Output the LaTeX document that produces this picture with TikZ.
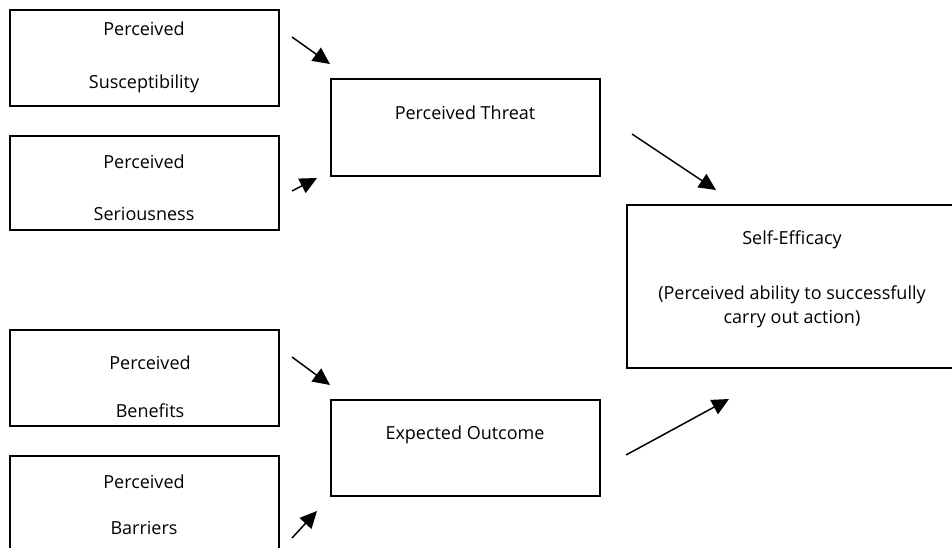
\documentclass[tikz,border=0pt]{standalone}
\usepackage{fontspec}
\setmainfont{Open Sans}
\usetikzlibrary{arrows.meta}
\begin{document}
\begin{tikzpicture}[x=1pt,y=-1pt,
  box/.style={draw,line width=1.6pt,rectangle,inner sep=0pt},
  lbl/.style={anchor=base,inner sep=0pt,font=\fontsize{18}{21}\selectfont},
  arr/.style={line width=1.5pt,-{Triangle[length=17pt,width=16pt]}}]
\useasboundingbox (0,0) rectangle (952,547);
\begin{scope}
\clip (0,0) rectangle (952,547);
% boxes
\node[box,minimum width=269pt,minimum height=96pt] (sus) at (144.5,58) {};
\node[box,minimum width=269pt,minimum height=94pt] (ser) at (144.5,183) {};
\node[box,minimum width=269pt,minimum height=97pt] (thr) at (465.5,127.5) {};
\node[box,minimum width=380pt,minimum height=163pt] (se) at (817,286.5) {};
\node[box,minimum width=269pt,minimum height=96pt] (ben) at (144.5,378) {};
\node[box,minimum width=269pt,minimum height=96pt] (eo) at (465.5,448) {};
\node[box,minimum width=269pt,minimum height=110pt] (bar) at (144.5,511) {};
\end{scope}
% texts
\node[lbl] (t1a) at (144,35) {Perceived};
\node[lbl] (t1b) at (144,88) {Susceptibility};
\node[lbl] (t2a) at (144,168) {Perceived};
\node[lbl] (t2b) at (144,220) {Seriousness};
\node[lbl] (t3) at (465,119) {Perceived Threat};
\node[lbl] (t4a) at (792,244) {Self-Efficacy};
\node[lbl] (t4b) at (792,299) {(Perceived ability to successfully};
\node[lbl] (t4c) at (792,323) {carry out action)};
\node[lbl] (t5a) at (150,369) {Perceived};
\node[lbl] (t5b) at (150,417) {Benefits};
\node[lbl] (t7) at (465,439) {Expected Outcome};
\node[lbl] (t8a) at (144,488) {Perceived};
\node[lbl] (t8b) at (144,534) {Barriers};
% arrow end points
\coordinate (a1s) at (292,37);  \coordinate (a1e) at (330,64);
\coordinate (a2s) at (292,191); \coordinate (a2e) at (317,178);
\coordinate (a3s) at (632,134); \coordinate (a3e) at (716,190);
\coordinate (a4s) at (292,357); \coordinate (a4e) at (330,385);
\coordinate (a5s) at (292,538); \coordinate (a5e) at (317,511);
\coordinate (a6s) at (626,455); \coordinate (a6e) at (729,399);
\draw[arr] (a1s) -- (a1e);
\draw[arr] (a2s) -- (a2e);
\draw[arr] (a3s) -- (a3e);
\draw[arr] (a4s) -- (a4e);
\draw[arr] (a5s) -- (a5e);
\draw[arr] (a6s) -- (a6e);
\end{tikzpicture}
\end{document}
